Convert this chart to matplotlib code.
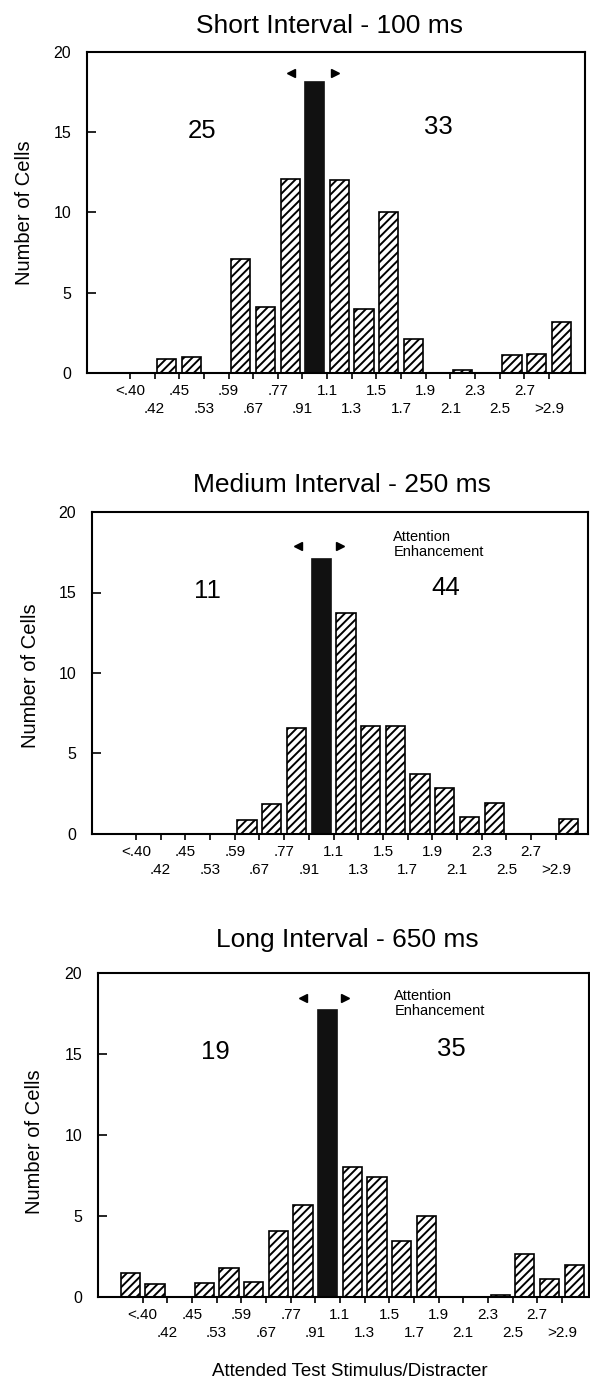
import matplotlib
matplotlib.use("Agg")
import matplotlib.pyplot as plt
import numpy as np

plt.rcParams['font.family'] = ['Liberation Sans', 'DejaVu Sans']
plt.rcParams['hatch.linewidth'] = 1.4
plt.rcParams['hatch.color'] = 'black'

# ---- data ----
tick_labels = ['<.40', '.42', '.45', '.53', '.59', '.67', '.77', '.91', '1.1',
               '1.3', '1.5', '1.7', '1.9', '2.1', '2.3', '2.5', '2.7', '>2.9']
short_counts = [0, 0, 0.9, 1.0, 0, 7.1, 4.1, 12.1, 18.1, 12.0, 4.0, 10.0, 2.1,
                0, 0.2, 0, 1.1, 1.2, 3.2]
medium_counts = [0, 0, 0, 0, 0, 0.9, 1.85, 6.6, 17.1, 13.7, 6.7, 6.7, 3.7,
                 2.85, 1.05, 1.95, 0, 0, 0.95]
long_counts = [1.5, 0.8, 0, 0.85, 1.8, 0.95, 4.1, 5.65, 17.7, 8.05, 7.4, 3.45,
               5.0, 0, 0, 0.15, 2.65, 1.1, 1.95]
titles = ['Short Interval - 100 ms', 'Medium Interval - 250 ms', 'Long Interval - 650 ms']
left_totals = ['25', '11', '19']
right_totals = ['33', '44', '35']
center_bin = 8

W, H = 590, 1380
fig = plt.figure(figsize=(W / 100, H / 100), dpi=100)


def px_axes(l, t, r, b):
    return fig.add_axes([l / W, 1 - b / H, (r - l) / W, (b - t) / H])


panels = [
    dict(box=(87, 52, 585, 373), xlim=(-1.24, 18.96), counts=short_counts,
         title_xy=(330, 33), ylab_xy=(25, 213), arrow_y=18.7, arrow_dx=(-0.95, 0.8),
         note=None, lt=(3.44, 15.1), rt=(13.0, 15.3)),
    dict(box=(92, 512, 588, 834), xlim=(-1.28, 18.8), counts=medium_counts,
         title_xy=(342, 492), ylab_xy=(30, 676), arrow_y=17.9, arrow_dx=(-0.95, 0.75),
         note=(10.92, 18.9), lt=(3.41, 15.1), rt=(13.04, 15.3)),
    dict(box=(98, 973, 589, 1297), xlim=(-1.31, 18.6), counts=long_counts,
         title_xy=(347, 947), ylab_xy=(35, 1142), arrow_y=18.45, arrow_dx=(-1.0, 0.7),
         note=(10.71, 19.0), lt=(3.45, 15.1), rt=(13.0, 15.3)),
]

for i, p in enumerate(panels):
    ax = px_axes(*p['box'])
    counts = np.array(p['counts'], dtype=float)
    x = np.arange(len(counts))
    hatched = (x != center_bin) & (counts > 0)
    ax.bar(x[hatched], counts[hatched], width=0.78, color='white',
           edgecolor='black', hatch='////', linewidth=1.2, zorder=2)
    ax.bar([center_bin], [counts[center_bin]], width=0.78, color='#111111',
           edgecolor='#111111', linewidth=1.2, zorder=2)

    ax.set_xlim(*p['xlim'])
    ax.set_ylim(0, 20)

    # x ticks: two alternating rows
    tick_pos = np.arange(len(tick_labels)) + 0.5
    ax.set_xticks(tick_pos[0::2])
    ax.set_xticklabels(tick_labels[0::2])
    ax.set_xticks(tick_pos[1::2], minor=True)
    ax.set_xticklabels(tick_labels[1::2], minor=True)
    ax.tick_params(axis='x', which='major', direction='out', length=4.3,
                   width=1.2, pad=3.8, labelsize=11)
    ax.tick_params(axis='x', which='minor', direction='out', length=4.3,
                   width=1.2, pad=16.5, labelsize=11)

    ax.set_yticks([0, 5, 10, 15, 20])
    ax.tick_params(axis='y', which='major', direction='in', length=6.5,
                   width=1.2, pad=11.5, labelsize=11.5)

    for s in ax.spines.values():
        s.set_linewidth(1.5)

    # arrows above the black bar
    ax.plot([center_bin + p['arrow_dx'][0]], [p['arrow_y']], marker='<', ms=6,
            color='black', linestyle='none', clip_on=False)
    ax.plot([center_bin + p['arrow_dx'][1]], [p['arrow_y']], marker='>', ms=6,
            color='black', linestyle='none', clip_on=False)

    ax.text(p['lt'][0], p['lt'][1], left_totals[i], fontsize=18.5,
            ha='center', va='center')
    ax.text(p['rt'][0], p['rt'][1], right_totals[i], fontsize=18.5,
            ha='center', va='center')
    if p['note'] is not None:
        ax.text(p['note'][0], p['note'][1], 'Attention\nEnhancement',
                fontsize=10.5, ha='left', va='top', linespacing=1.1)

    fig.text(p['title_xy'][0] / W, 1 - p['title_xy'][1] / H, titles[i],
             fontsize=19, ha='center', va='baseline')
    fig.text(p['ylab_xy'][0] / W, 1 - p['ylab_xy'][1] / H, 'Number of Cells',
             fontsize=14.5, rotation=90, ha='center', va='center')

fig.text(350 / W, 1 - 1376.5 / H, 'Attended Test Stimulus/Distracter',
         fontsize=13.5, ha='center', va='baseline')

fig.savefig('out.png', dpi=100, facecolor='white')
